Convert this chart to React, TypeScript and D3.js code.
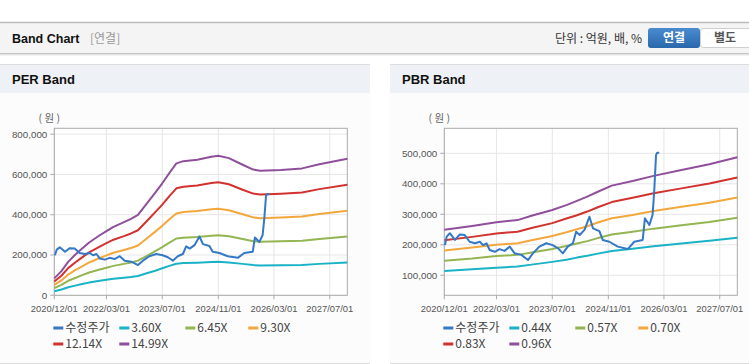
import React from 'react';
import * as d3 from 'd3';

// x axis labels shared by both charts
const xTickLabels = ['2020/12/01', '2022/03/01', '2023/07/01', '2024/11/01', '2026/03/01', '2027/07/01'];

// 수정주가 (adjusted price), same in both charts
const priceDates = [
  '2020-12-07', '2020-12-22', '2021-01-18', '2021-03-04', '2021-04-15', '2021-05-28', '2021-07-10',
  '2021-08-25', '2021-10-07', '2021-11-04', '2021-12-04', '2022-01-01', '2022-02-15', '2022-03-28',
  '2022-05-10', '2022-06-25', '2022-08-07', '2022-10-04', '2022-12-01', '2023-01-13', '2023-03-10',
  '2023-05-10', '2023-07-04', '2023-08-19', '2023-10-01', '2023-11-13', '2023-12-28', '2024-01-25',
  '2024-02-25', '2024-04-07', '2024-05-20', '2024-06-20', '2024-08-15', '2024-09-13', '2024-11-10',
  '2025-01-22', '2025-04-20', '2025-06-15', '2025-08-28', '2025-09-16', '2025-10-25', '2025-11-22',
  '2025-12-06', '2025-12-22', '2026-01-01', '2026-01-19',
];
const priceValues = [
  199000, 227000, 238000, 216000, 234000, 232000, 210000,
  205000, 210000, 199000, 205000, 183000, 177000, 186000,
  180000, 194000, 172000, 167000, 150000, 172000, 194000,
  205000, 199000, 189000, 172000, 194000, 205000, 243000,
  232000, 249000, 292000, 254000, 245000, 216000, 210000,
  194000, 186000, 210000, 216000, 287000, 265000, 298000,
  374000, 494000, 502000, 502000,
];

// PER band
const perDates = [
  '2020-12-01', '2021-02-01', '2021-04-01', '2021-06-01', '2021-08-01', '2021-10-01', '2022-01-01',
  '2022-03-01', '2022-05-01', '2022-08-01', '2022-10-01', '2022-12-01', '2023-03-01', '2023-05-01',
  '2023-07-01', '2023-09-01', '2023-11-01', '2024-01-01', '2024-05-01', '2024-09-01', '2024-11-01',
  '2025-02-01', '2025-06-01', '2025-09-01', '2025-11-01', '2026-05-01', '2026-11-01', '2027-04-01',
  '2027-12-01',
];
const per360 = [20, 29, 40, 48, 56, 63, 72, 77, 82, 87, 91, 96, 112, 122, 134, 146, 157, 160, 162, 165, 166, 163, 156, 150, 148, 149, 151, 156, 163];
const per645 = [36, 52, 72, 86, 100, 113, 128, 137, 146, 156, 163, 172, 200, 219, 239, 261, 282, 286, 290, 296, 298, 293, 279, 268, 266, 268, 271, 280, 292];
const per930 = [52, 74, 103, 125, 144, 163, 185, 198, 211, 225, 235, 247, 288, 316, 345, 377, 406, 413, 418, 427, 430, 422, 402, 387, 383, 386, 391, 404, 420];
const per1214 = [68, 97, 135, 163, 188, 213, 242, 259, 276, 294, 307, 323, 376, 413, 450, 492, 531, 539, 545, 557, 561, 551, 524, 505, 500, 504, 510, 527, 549];
const per1499 = [84, 120, 166, 201, 232, 262, 298, 319, 340, 363, 379, 399, 465, 510, 556, 607, 655, 666, 673, 688, 693, 681, 648, 624, 618, 622, 630, 651, 678];
const perYTicks = [0, 200000, 400000, 600000, 800000];

// PBR band
const pbrDates = [
  '2020-12-01', '2021-08-01', '2022-03-01', '2022-09-01', '2023-01-01', '2023-07-01', '2023-11-01',
  '2024-02-01', '2024-05-01', '2024-08-01', '2024-12-01', '2025-06-01', '2025-12-01', '2026-08-01',
  '2027-04-01', '2027-12-01',
];
const pbr044 = [114, 120, 125, 129, 135, 144, 151, 158, 164, 171, 180, 187, 195, 204, 213, 223];
const pbr057 = [148, 155, 163, 167, 175, 186, 196, 204, 212, 222, 234, 243, 253, 264, 275, 289];
const pbr070 = [181, 191, 200, 205, 215, 229, 241, 251, 261, 273, 287, 298, 311, 325, 338, 355];
const pbr083 = [215, 226, 237, 243, 255, 271, 286, 297, 309, 323, 340, 354, 369, 385, 401, 421];
const pbr096 = [249, 262, 274, 281, 295, 314, 330, 344, 358, 374, 394, 409, 426, 445, 464, 487];
const pbrYTicks = [100000, 200000, 300000, 400000, 500000];

const COLORS = ['#3478c6', '#1ab2c6', '#93b552', '#f3a73c', '#d2322e', '#8f4f9b'];
const LEGEND_COLS = [0, 66, 132, 195];
const tickFont = '"Liberation Sans", Arial, sans-serif';
const krFont = '"Noto Sans CJK KR", "Liberation Sans", sans-serif';

const parse = d3.timeParse('%Y-%m-%d');
const parseTick = d3.timeParse('%Y/%m/%d');

interface Series { name: string; dates: string[]; values: number[]; scale: number; }

interface BandProps {
  x0: number;
  title: string;
  left: number;
  yDomain: [number, number];
  yTicks: number[];
  series: Series[];
}

const BandChart: React.FC<BandProps> = ({ x0, title, left, yDomain, yTicks, series }) => {
  const width = 293;
  const top = 128.3;
  const bottom = 295.3;
  const right = left + width;
  const panelW = x0 === 0 ? 370 : 359;

  const x = d3.scaleTime()
    .domain([parse('2020-12-01') as Date, parse('2027-12-01') as Date])
    .range([left, right]);
  const y = d3.scaleLinear().domain(yDomain).range([bottom, top]);
  const fmt = d3.format(',');

  const line = (s: Series) =>
    d3.line<number>()
      .x((_, i) => x(parse(s.dates[i]) as Date))
      .y(v => y(v * s.scale))(s.values) || '';

  const xTicks = xTickLabels.map(t => parseTick(t) as Date);

  return (
    <g>
      {/* panel */}
      <rect x={x0} y={64} width={panelW} height={29} fill="#eef1f6" />
      <line x1={x0} x2={x0 + panelW} y1={64.5} y2={64.5} stroke="#dcdcdc" />
      <rect x={x0} y={93} width={panelW} height={270} fill="#fcfcfc" />
      <line x1={x0} x2={x0 + panelW} y1={363.5} y2={363.5} stroke="#dcdcdc" />
      <text x={x0 + 12} y={84} fontFamily={tickFont} fontWeight="bold" fontSize={13} fill="#111">{title}</text>

      {/* plot */}
      <rect x={left} y={top} width={width} height={bottom - top} fill="#fff" />
      {xTicks.map((t, i) => (
        <line key={'gx' + i} x1={x(t)} x2={x(t)} y1={top} y2={bottom} stroke="#e6e6e6" />
      ))}
      {yTicks.map((t, i) => (
        <line key={'gy' + i} x1={left} x2={right} y1={y(t)} y2={y(t)} stroke="#e6e6e6" />
      ))}
      <rect x={left} y={top} width={width} height={bottom - top} fill="none" stroke="#ababab" />

      {yTicks.map((t, i) => (
        <g key={'ty' + i}>
          <line x1={left - 4} x2={left} y1={y(t)} y2={y(t)} stroke="#ababab" />
          <text x={left - 7} y={y(t)} dy="0.35em" textAnchor="end" fontFamily={tickFont} fontSize={9.8} fill="#555">{fmt(t)}</text>
        </g>
      ))}
      {xTicks.map((t, i) => (
        <g key={'tx' + i}>
          <line x1={x(t)} x2={x(t)} y1={bottom} y2={bottom + 4} stroke="#ababab" />
          <text x={x(t)} y={bottom + 17} textAnchor="middle" fontFamily={tickFont} fontSize={9.4} fill="#555">{xTickLabels[i]}</text>
        </g>
      ))}
      <text x={left - 5} y={122} textAnchor="middle" fontFamily={krFont} fontSize={10.5} fill="#666">( 원 )</text>

      {/* lines: bands first, price on top */}
      {series.slice(1).map((s, i) => (
        <path key={'b' + i} d={line(s)} fill="none" stroke={COLORS[i + 1]} strokeWidth={2} strokeLinejoin="round" />
      ))}
      <path d={line(series[0])} fill="none" stroke={COLORS[0]} strokeWidth={2} strokeLinejoin="round" />

      {/* legend */}
      {series.map((s, i) => {
        const lx = left - 1 + LEGEND_COLS[i % 4];
        const ly = i < 4 ? 328 : 344;
        return (
          <g key={'lg' + i}>
            <line x1={lx} x2={lx + 10} y1={ly} y2={ly} stroke={COLORS[i]} strokeWidth={3} />
            <text x={lx + 12} y={ly} dy="0.36em" fontFamily={krFont} fontSize={12} fill="#444">{s.name}</text>
          </g>
        );
      })}
    </g>
  );
};

const App: React.FC = () => {
  const perSeries: Series[] = [
    { name: '수정주가', dates: priceDates, values: priceValues, scale: 1 },
    { name: '3.60X', dates: perDates, values: per360, scale: 1000 },
    { name: '6.45X', dates: perDates, values: per645, scale: 1000 },
    { name: '9.30X', dates: perDates, values: per930, scale: 1000 },
    { name: '12.14X', dates: perDates, values: per1214, scale: 1000 },
    { name: '14.99X', dates: perDates, values: per1499, scale: 1000 },
  ];
  const pbrSeries: Series[] = [
    { name: '수정주가', dates: priceDates, values: priceValues, scale: 1 },
    { name: '0.44X', dates: pbrDates, values: pbr044, scale: 1000 },
    { name: '0.57X', dates: pbrDates, values: pbr057, scale: 1000 },
    { name: '0.70X', dates: pbrDates, values: pbr070, scale: 1000 },
    { name: '0.83X', dates: pbrDates, values: pbr083, scale: 1000 },
    { name: '0.96X', dates: pbrDates, values: pbr096, scale: 1000 },
  ];

  return (
    <svg width={749} height={364} style={{ position: 'absolute', left: 0, top: 0, background: '#fff' }}>
      <defs>
        <linearGradient id="btnBlue" x1="0" x2="0" y1="0" y2="1">
          <stop offset="0" stopColor="#4a8bd0" />
          <stop offset="1" stopColor="#2a68ab" />
        </linearGradient>
      </defs>

      {/* header */}
      <rect x={0} y={22} width={749} height={31} fill="#f4f4f4" />
      <line x1={0} x2={749} y1={22.5} y2={22.5} stroke="#bcbcbc" strokeWidth={1.5} />
      <line x1={0} x2={749} y1={53.5} y2={53.5} stroke="#c4c4c4" />
      <line x1={0} x2={749} y1={54.5} y2={54.5} stroke="#e4e4e4" />
      <line x1={0} x2={749} y1={55.5} y2={55.5} stroke="#f2f2f2" />
      <text x={12} y={43} fontFamily={tickFont} fontWeight="bold" fontSize={12.5} fill="#111">Band Chart</text>
      <text x={90} y={43} fontFamily={krFont} fontSize={12} fill="#999">[연결]</text>
      <text x={642} y={43} textAnchor="end" fontFamily={krFont} fontSize={12} fill="#333">단위 : 억원, 배, %</text>
      <rect x={700.5} y={28.5} width={52} height={19} rx={3} fill="#fff" stroke="#cfcfcf" />
      <rect x={648} y={28} width={52} height={20} rx={3} fill="url(#btnBlue)" />
      <text x={674} y={42} textAnchor="middle" fontFamily={krFont} fontWeight="bold" fontSize={12} fill="#fff">연결</text>
      <text x={725} y={42} textAnchor="middle" fontFamily={krFont} fontWeight="bold" fontSize={12} fill="#555">별도</text>

      <BandChart x0={0} title="PER Band" left={54.3} yDomain={[0, 829000]} yTicks={perYTicks} series={perSeries} />
      <BandChart x0={390} title="PBR Band" left={444.3} yDomain={[34400, 582000]} yTicks={pbrYTicks} series={pbrSeries} />
    </svg>
  );
};

export default App;
